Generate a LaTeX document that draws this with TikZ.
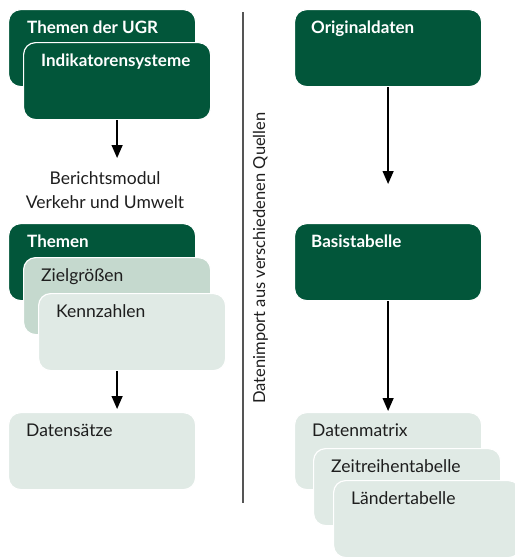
\documentclass[tikz,border=0pt]{standalone}
\usepackage{fontspec}
\setmainfont{Lato}
\usetikzlibrary{arrows.meta,calc}
\definecolor{dkgreen}{HTML}{02563A}
\definecolor{midgreen}{HTML}{C5D9CE}
\definecolor{ltgreen}{HTML}{E0EAE5}
\definecolor{txtgray}{HTML}{1E1E1E}
\definecolor{linegray}{HTML}{555555}
\begin{document}
\begin{tikzpicture}[x=1pt,y=-1pt,
  box/.style={rounded corners=12pt, minimum width=187pt, minimum height=77pt,
    anchor=north west, inner sep=0pt, draw=white, line width=1.2pt},
  darkbox/.style={box, fill=dkgreen},
  midbox/.style={box, fill=midgreen},
  lightbox/.style={box, fill=ltgreen},
  dlabel/.style={anchor=base west, inner sep=0pt, text=white, font=\fontsize{17}{19}\selectfont\bfseries},
  llabel/.style={anchor=base west, inner sep=0pt, text=txtgray, font=\fontsize{17.5}{19}\selectfont},
  arr/.style={-{Triangle[width=11pt,length=13pt]}, line width=1.3pt, black}
]
\useasboundingbox (0,0) rectangle (515,558);
% left column
\node[darkbox] (ugr) at (8,9) {};
\node[dlabel] (ugrl) at ($(ugr.north west)+(19,24)$) {Themen der UGR};
\node[darkbox] (ind) at (23,42) {};
\node[dlabel] (indl) at ($(ind.north west)+(18,24)$) {Indikatorensysteme};
\node[align=center, inner sep=0pt, text=txtgray, font=\fontsize{17.5}{24}\selectfont, anchor=north] (ber) at (105,171) {Berichtsmodul\\Verkehr und Umwelt};
\draw[arr] (ind.south) -- ($(ind.south |- ber.north)+(0,-13)$) coordinate (berarr);

\node[darkbox] (them) at (8,223) {};
\node[dlabel] (theml) at ($(them.north west)+(19,24)$) {Themen};
\node[midbox] (ziel) at (23,257) {};
\node[llabel] (ziell) at ($(ziel.north west)+(18,24)$) {Zielgrößen};
\node[lightbox] (kenn) at (38,293) {};
\node[llabel] (kennl) at ($(kenn.north west)+(18,24)$) {Kennzahlen};

\node[lightbox] (ds) at (8,412) {};
\node[llabel] (dsl) at ($(ds.north west)+(18,24)$) {Datensätze};
\draw[arr] (ziel.south |- kenn.south) -- ($(ziel.south |- ds.north)+(0,-3)$);

% divider
\coordinate (divt) at (243,12);
\coordinate (divb) at (243,503);
\draw[linegray, line width=1.5pt] (divt) -- (divb);
\node[rotate=90, anchor=base, inner sep=0pt, text=txtgray, font=\fontsize{16.5}{18}\selectfont] (imp) at (265,258) {Datenimport aus verschiedenen Quellen};

% right column
\node[darkbox] (orig) at (294,9) {};
\node[dlabel] (origl) at ($(orig.north west)+(17,24)$) {Originaldaten};
\node[darkbox] (basis) at (294,223) {};
\node[dlabel] (basisl) at ($(basis.north west)+(17,24)$) {Basistabelle};
\draw[arr] (orig.south) -- ($(basis.north)+(0,-39)$);

\node[lightbox] (mat) at (294,412) {};
\node[llabel] (matl) at ($(mat.north west)+(18,24)$) {Datenmatrix};
\node[lightbox] (zeit) at (313,448) {};
\node[llabel] (zeitl) at ($(zeit.north west)+(18,24)$) {Zeitreihentabelle};
\node[lightbox] (land) at (333,480) {};
\node[llabel] (landl) at ($(land.north west)+(18,24)$) {Ländertabelle};
\draw[arr] (basis.south) -- ($(mat.north)+(0,-1)$);
\end{tikzpicture}
\end{document}
